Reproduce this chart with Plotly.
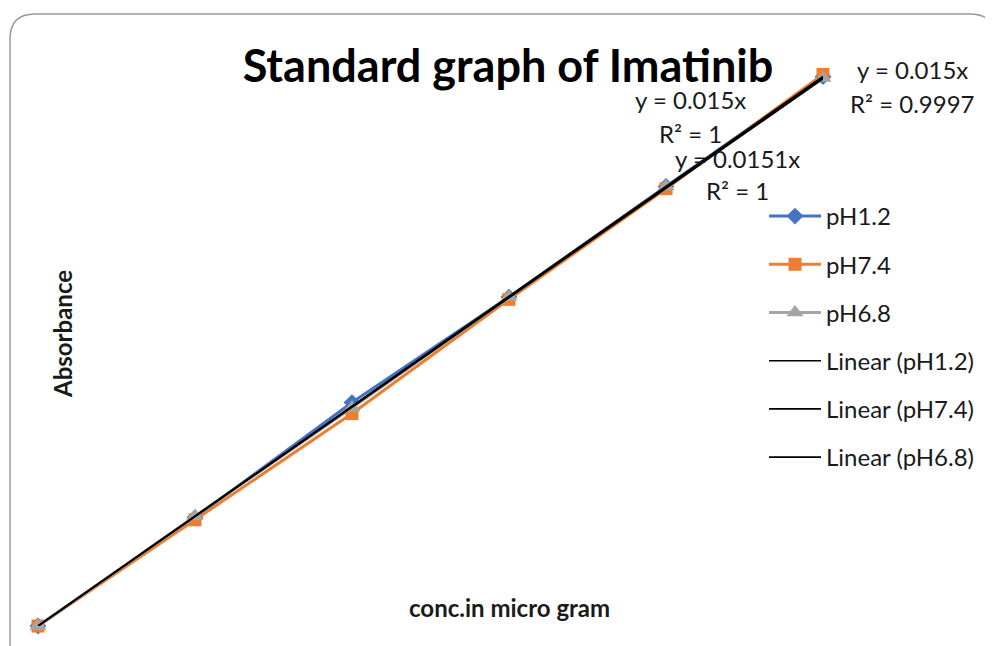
import numpy as np
import plotly.graph_objects as go

# concentration (micro gram) and absorbance per medium
conc = [0, 10, 20, 30, 40, 50]
ph12 = [0, 0.148, 0.305, 0.449, 0.600, 0.750]
ph74 = [0, 0.145, 0.290, 0.446, 0.597, 0.753]
ph68 = [0, 0.150, 0.298, 0.449, 0.600, 0.748]

series_names = ["pH1.2", "pH7.4", "pH6.8"]
series_values = [ph12, ph74, ph68]
series_colors = ["#4472C4", "#ED7D31", "#A5A5A5"]
series_symbols = ["diamond", "square", "triangle-up"]
series_sizes = [13, 13, 15]

# trendline equation labels as printed on the chart
eq_labels = [("y = 0.015x", "R² = 1"), ("y = 0.0151x", "R² = 1"), ("y = 0.015x", "R² = 0.9997")]

FONT = "Lato"
TXT = "#1a1a1a"

# page pixel layout of the plot area (the page body adds an 8px margin)
OFF = 8
L, R, T, B = 38, 823, 40, 626
W, H = 993, 646


def px_x(p):
    return (p - L) / (R - L)


def px_y(p):
    return (B - p) / (B - T)


fig = go.Figure()

for i, (name, vals) in enumerate(zip(series_names, series_values)):
    fig.add_trace(go.Scatter(
        x=conc, y=vals, name=name, mode="lines+markers",
        line=dict(color=series_colors[i], width=3),
        marker=dict(symbol=series_symbols[i], size=series_sizes[i], color=series_colors[i]),
        cliponaxis=False, legendgroup=name,
    ))

# linear trendlines forced through origin
x_arr = np.array(conc, dtype=float)
for name, vals in zip(series_names, series_values):
    y_arr = np.array(vals, dtype=float)
    slope = (x_arr * y_arr).sum() / (x_arr * x_arr).sum()
    fig.add_trace(go.Scatter(
        x=[x_arr.min(), x_arr.max()], y=[slope * x_arr.min(), slope * x_arr.max()],
        name="Linear (" + name + ")", mode="lines",
        line=dict(color="black", width=1.6),
        cliponaxis=False, legendgroup="lin" + name,
    ))

# equation labels (pixel centres)
eq_pos = [(690, 100, 133), (737, 158, 190), (912, 70, 103)]
for (eq, r2), (cx, y1, y2) in zip(eq_labels, eq_pos):
    for txt, cy in ((eq, y1), (r2, y2)):
        fig.add_annotation(x=px_x(cx), y=px_y(cy), xref="paper", yref="paper",
                           text=txt, showarrow=False, xanchor="center", yanchor="middle",
                           font=dict(family=FONT, size=24, color=TXT))

# axis titles sit inside the plot area, like the Excel original
fig.add_annotation(x=px_x(62), y=px_y(334), xref="paper", yref="paper",
                   text="<b>Absorbance</b>", textangle=-90, showarrow=False,
                   xanchor="center", yanchor="middle",
                   font=dict(family=FONT, size=24, color=TXT))
fig.add_annotation(x=px_x(509), y=px_y(607), xref="paper", yref="paper",
                   text="<b>conc.in micro gram</b>", showarrow=False,
                   xanchor="center", yanchor="middle",
                   font=dict(family=FONT, size=24, color=TXT))

# rounded chart border
rx, ry = 25 / (R - L), 25 / (B - T)
x0, x1 = px_x(10), px_x(995)
y0, y1 = px_y(650), px_y(14)
path = (f"M {x0},{y0} L {x0},{y1 - ry} Q {x0},{y1} {x0 + rx},{y1} "
        f"L {x1 - rx},{y1} Q {x1},{y1} {x1},{y1 - ry} L {x1},{y0}")
fig.add_shape(type="path", path=path, xref="paper", yref="paper",
              line=dict(color="#9a9a9a", width=1.5))

fig.update_layout(
    width=W, height=H,
    margin=dict(l=L - OFF, r=W - R + OFF, t=T - OFF, b=H - B + OFF),
    paper_bgcolor="white", plot_bgcolor="white",
    title=dict(text="<b>Standard graph of Imatinib</b>", xref="paper", x=px_x(508),
               xanchor="center", yref="container", y=1 - (66 - OFF) / H, yanchor="middle",
               font=dict(family=FONT, size=45, color="black")),
    legend=dict(x=px_x(764), y=px_y(194), xanchor="left", yanchor="top",
                font=dict(family=FONT, size=24, color=TXT),
                tracegroupgap=14, itemwidth=52, bgcolor="rgba(0,0,0,0)"),
    showlegend=True,
)

fig.update_xaxes(range=[0, 50], visible=False)
fig.update_yaxes(range=[0, 0.8], visible=False)

fig.write_html("out.html")
